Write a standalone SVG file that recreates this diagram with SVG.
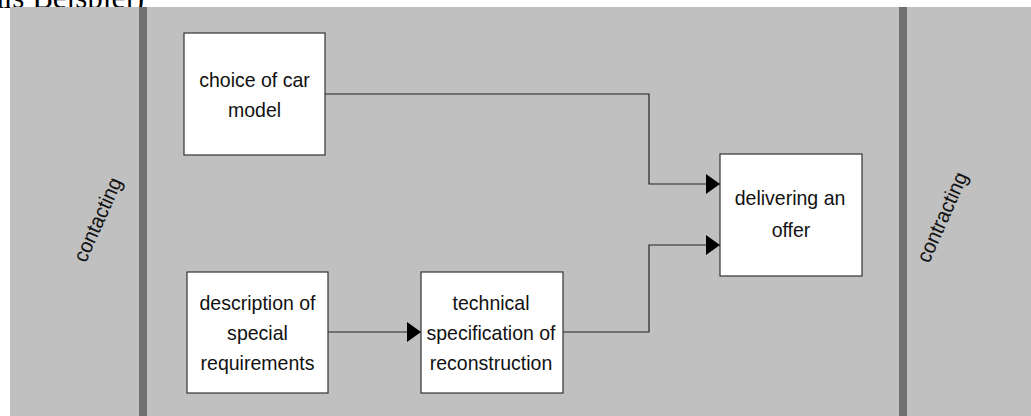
<svg xmlns="http://www.w3.org/2000/svg" width="1031" height="416" viewBox="0 0 1031 416">
<style>
.box{fill:#ffffff;stroke:#333333;stroke-width:1.2}
.lbl{font-family:"Liberation Sans",Arial,sans-serif;font-size:21px;fill:#111111;text-anchor:middle}
.lane{font-family:"Liberation Sans",Arial,sans-serif;font-size:21px;fill:#111111;text-anchor:middle}
.bar{fill:#707070}
.con{fill:none;stroke:#222222;stroke-width:1.2}
</style>
<defs>
<marker id="arr" markerUnits="userSpaceOnUse" markerWidth="16" markerHeight="22" refX="14" refY="10" orient="auto">
<path d="M0,0 L14,10 L0,20 Z" fill="#000000"/>
</marker>
</defs>
<rect x="0" y="0" width="1031" height="416" fill="#ffffff"/>
<text x="-10" y="8" font-family="'Liberation Serif','Times New Roman',serif" font-size="31" fill="#000000">als Beispiel)</text>
<rect x="10" y="7" width="1021" height="409" fill="#c0c0c0"/>
<g id="lanes">
<rect class="bar" x="139" y="7" width="8" height="409"/>
<rect class="bar" x="899" y="7" width="8" height="409"/>
<text class="lane" transform="translate(99.5,220.5) rotate(-66) scale(0.94,1)" y="5">contacting</text>
<text class="lane" transform="translate(944,218) rotate(-66) scale(0.94,1)" y="5">contracting</text>
</g>
<g id="connectors">
<path class="con" d="M325,94 H649 V184 H720" marker-end="url(#arr)"/>
<path class="con" d="M328,332 H421" marker-end="url(#arr)"/>
<path class="con" d="M563,332 H649 V245 H720" marker-end="url(#arr)"/>
</g>
<g id="choice">
<rect class="box" x="184" y="33" width="141" height="122"/>
<text class="lbl" transform="translate(254.5,86.5) scale(0.93,1)">choice of car</text>
<text class="lbl" transform="translate(254.5,116.5) scale(0.93,1)">model</text>
</g>
<g id="description">
<rect class="box" x="187" y="272" width="141" height="121"/>
<text class="lbl" transform="translate(257.5,310) scale(0.93,1)">description of</text>
<text class="lbl" transform="translate(257.5,340) scale(0.93,1)">special</text>
<text class="lbl" transform="translate(257.5,369.5) scale(0.93,1)">requirements</text>
</g>
<g id="technical">
<rect class="box" x="421" y="272" width="142" height="121"/>
<text class="lbl" transform="translate(491,310) scale(0.93,1)">technical</text>
<text class="lbl" transform="translate(491,340) scale(0.93,1)">specification of</text>
<text class="lbl" transform="translate(491,369.5) scale(0.93,1)">reconstruction</text>
</g>
<g id="offer">
<rect class="box" x="720" y="154" width="142" height="122"/>
<text class="lbl" transform="translate(790,205) scale(0.93,1)">delivering an</text>
<text class="lbl" transform="translate(791,236.5) scale(0.93,1)">offer</text>
</g>
</svg>
